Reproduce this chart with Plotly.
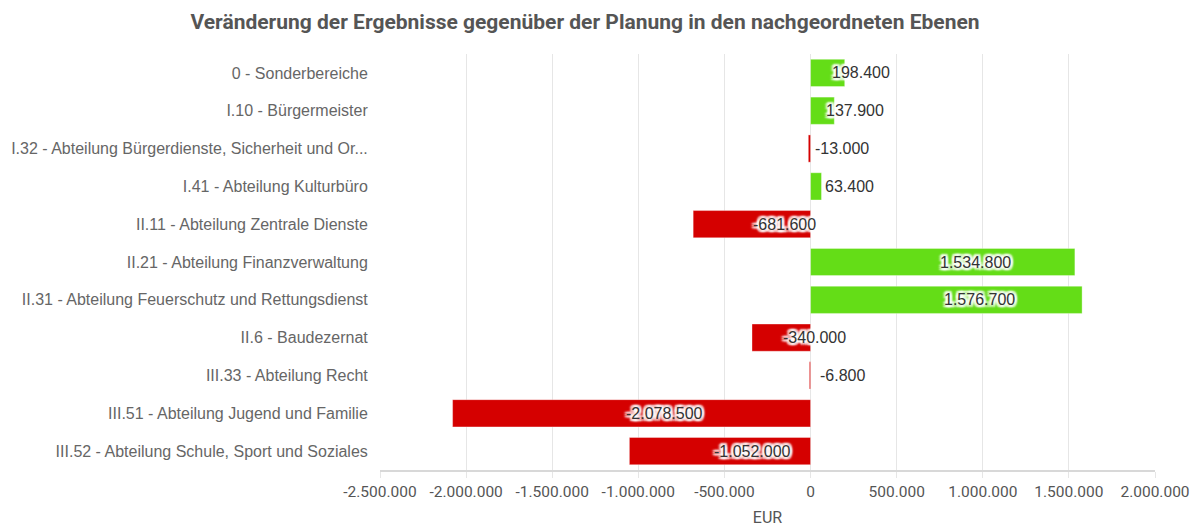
import plotly.graph_objects as go

# Data
categories = [
    "0 - Sonderbereiche",
    "I.10 - Bürgermeister",
    "I.32 - Abteilung Bürgerdienste, Sicherheit und Or...",
    "I.41 - Abteilung Kulturbüro",
    "II.11 - Abteilung Zentrale Dienste",
    "II.21 - Abteilung Finanzverwaltung",
    "II.31 - Abteilung Feuerschutz und Rettungsdienst",
    "II.6 - Baudezernat",
    "III.33 - Abteilung Recht",
    "III.51 - Abteilung Jugend und Familie",
    "III.52 - Abteilung Schule, Sport und Soziales",
]
values = [198400, 137900, -13000, 63400, -681600, 1534800, 1576700,
          -340000, -6800, -2078500, -1052000]

tick_vals = [-2500000, -2000000, -1500000, -1000000, -500000, 0,
             500000, 1000000, 1500000, 2000000]
tick_text = ["-2.500.000", "-2.000.000", "-1.500.000", "-1.000.000", "-500.000",
             "0", "500.000", "1.000.000", "1.500.000", "2.000.000"]

GREEN = "#64dd17"
RED = "#d50000"
FONT = "Roboto"
LABEL_FONT = "Liberation Sans"

# page body has an 8px margin, so the figure is a bit smaller than the window
W, H = 1191, 521


def fmt(v):
    return f"{v:,}".replace(",", ".")


colors = [GREEN if v >= 0 else RED for v in values]

fig = go.Figure()

fig.add_trace(go.Bar(
    y=categories,
    x=values,
    orientation="h",
    marker=dict(color=colors, line=dict(color="rgba(255,255,255,0.35)", width=1)),
    hoverinfo="x+y",
    showlegend=False,
))

# data labels with white halo
halo = ("2px 0 2px white, -2px 0 2px white, 0 2px 2px white, 0 -2px 2px white, "
        "2px 2px 2px white, -2px -2px 2px white, 2px -2px 2px white, -2px 2px 2px white")
annotations = []
for cat, v in zip(categories, values):
    annotations.append(dict(
        x=v / 2, y=cat, xref="x", yref="y",
        text=fmt(v), showarrow=False, xshift=33,
        font=dict(family=LABEL_FONT, size=16, color="#333333", shadow=halo),
    ))

fig.update_layout(
    title=dict(
        text="<b>Veränderung der Ergebnisse gegenüber der Planung in den nachgeordneten Ebenen</b>",
        x=577 / W, xanchor="center", y=1 - 14 / H, yanchor="middle",
        font=dict(family=FONT, size=21, color="#555555"),
    ),
    width=W, height=H,
    margin=dict(l=372, r=44, t=46, b=59, autoexpand=False),
    paper_bgcolor="white",
    plot_bgcolor="white",
    bargap=0.28,
    annotations=annotations,
    font=dict(family=FONT, size=14, color="#555555"),
    xaxis=dict(
        range=[-2500000, 2000000],
        tickvals=tick_vals,
        ticktext=tick_text,
        automargin=False,
        showgrid=True, gridcolor="#e6e6e6", gridwidth=1,
        zeroline=False,
        showline=True, linecolor="#d8d8d8", linewidth=2,
        ticks="outside", ticklen=6, tickcolor="#e6e6e6",
        tickfont=dict(family=FONT, size=15.5, color="#555555"),
        title=dict(text="EUR", font=dict(family=FONT, size=16, color="#555555"), standoff=12),
    ),
    yaxis=dict(
        autorange="reversed",
        automargin=False,
        showgrid=False,
        ticks="outside", ticklen=8, tickcolor="white",
        tickfont=dict(family=LABEL_FONT, size=16, color="#666666"),
    ),
)

fig.write_html("out.html")
